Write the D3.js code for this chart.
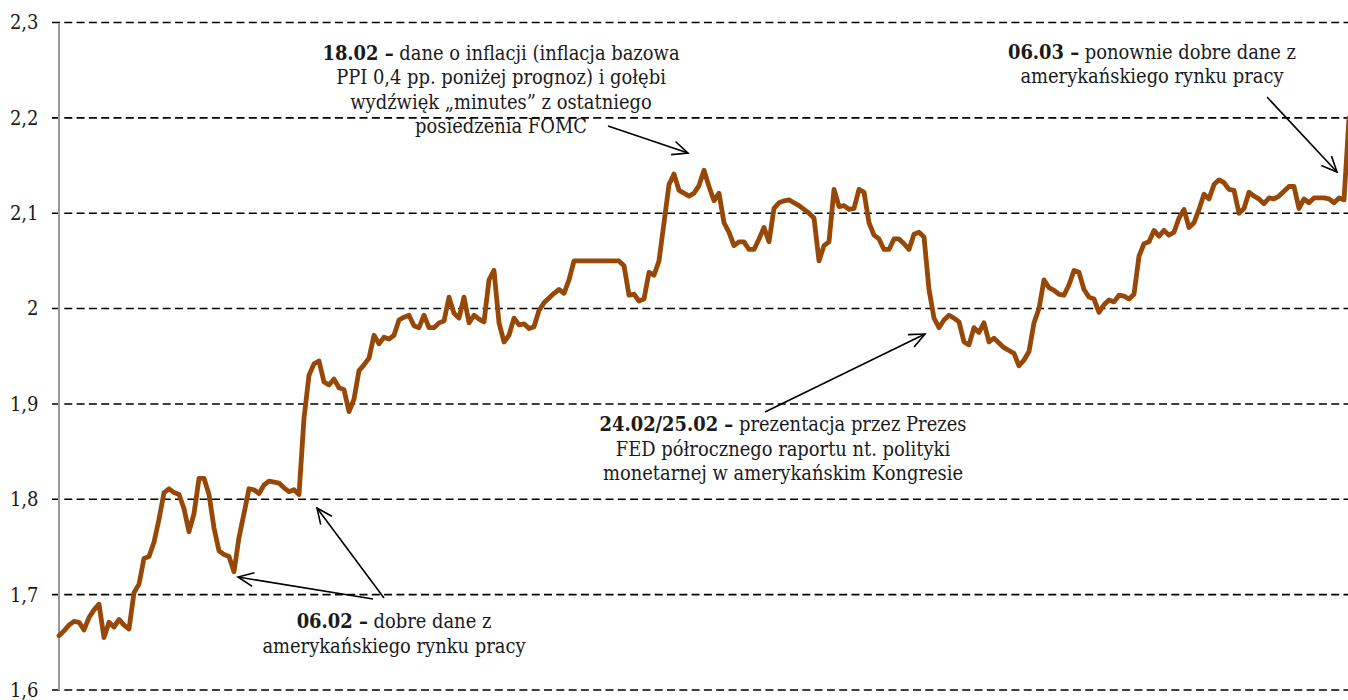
<!DOCTYPE html>
<html>
<head>
<meta charset="utf-8">
<script src="https://cdn.jsdelivr.net/npm/d3@7"></script>
<style>
  html, body { margin: 0; padding: 0; background: #fff; }
  svg { display: block; }
  text { font-family: "DejaVu Serif Condensed", "DejaVu Serif", "Liberation Serif", serif; fill: #1a1a1a; }
</style>
</head>
<body>
<svg id="chart" width="1348" height="700"></svg>
<script>
// Series at equal time steps (left to right).
const values = [
  1.657, 1.662, 1.668, 1.672, 1.671, 1.663, 1.676, 1.684, 1.690, 1.655,
  1.671, 1.666, 1.674, 1.668, 1.664, 1.702, 1.711, 1.738, 1.740, 1.755,
  1.779, 1.807, 1.811, 1.807, 1.805, 1.790, 1.766, 1.785, 1.822, 1.822,
  1.805, 1.770, 1.746, 1.742, 1.740, 1.724, 1.760, 1.785, 1.811, 1.810,
  1.806, 1.815, 1.819, 1.818, 1.817, 1.812, 1.808, 1.810, 1.805, 1.885,
  1.930, 1.942, 1.945, 1.923, 1.920, 1.926, 1.917, 1.915, 1.892, 1.905,
  1.935, 1.941, 1.948, 1.972, 1.963, 1.970, 1.968, 1.972, 1.988, 1.991,
  1.993, 1.982, 1.980, 1.993, 1.980, 1.980, 1.985, 1.987, 2.012, 1.995,
  1.990, 2.012, 1.985, 1.993, 1.989, 1.986, 2.030, 2.040, 1.985, 1.965,
  1.972, 1.990, 1.983, 1.984, 1.979, 1.981, 1.998, 2.006, 2.011, 2.016,
  2.020, 2.016, 2.030, 2.050, 2.050, 2.050, 2.050, 2.050, 2.050, 2.050,
  2.050, 2.050, 2.050, 2.045, 2.014, 2.015, 2.008, 2.010, 2.038, 2.035,
  2.050, 2.090, 2.130, 2.141, 2.124, 2.121, 2.118, 2.121, 2.129, 2.145,
  2.128, 2.113, 2.121, 2.090, 2.080, 2.066, 2.070, 2.070, 2.062, 2.062,
  2.073, 2.085, 2.070, 2.105, 2.111, 2.113, 2.114, 2.111, 2.108, 2.104,
  2.100, 2.095, 2.050, 2.066, 2.070, 2.125, 2.107, 2.108, 2.104, 2.105,
  2.125, 2.122, 2.090, 2.077, 2.073, 2.062, 2.062, 2.073, 2.073, 2.068,
  2.062, 2.078, 2.080, 2.075, 2.020, 1.990, 1.980, 1.988, 1.993, 1.990,
  1.986, 1.965, 1.962, 1.980, 1.975, 1.985, 1.965, 1.969, 1.964, 1.959,
  1.956, 1.953, 1.940, 1.946, 1.955, 1.985, 2.000, 2.030, 2.022, 2.019,
  2.015, 2.014, 2.025, 2.040, 2.038, 2.020, 2.012, 2.010, 1.996, 2.004,
  2.009, 2.007, 2.014, 2.013, 2.010, 2.015, 2.055, 2.068, 2.070, 2.082,
  2.076, 2.082, 2.077, 2.080, 2.095, 2.104, 2.085, 2.090, 2.104, 2.120,
  2.115, 2.130, 2.135, 2.132, 2.125, 2.124, 2.100, 2.105, 2.122, 2.118,
  2.115, 2.110, 2.116, 2.115, 2.118, 2.123, 2.128, 2.128, 2.105, 2.115,
  2.111, 2.116, 2.116, 2.116, 2.115, 2.111, 2.116, 2.114, 2.200
];

const yTicks = [1.6, 1.7, 1.8, 1.9, 2.0, 2.1, 2.2, 2.3];

// Annotation arrows, in data units: [step index, value]
const arrows = [
  { from: [62.8, 1.6954], to: [35.8, 1.7185] },
  { from: [65.0, 1.6965], to: [51.6, 1.7909] },
  { from: [109.8, 2.1914], to: [125.8, 2.1631] },
  { from: [141.2, 1.8915], to: [173.2, 1.9733] },
  { from: [241.6, 2.2218], to: [255.6, 2.1432] }
];

// Annotation texts: anchor [step index, value] of first baseline; bold lead + rest
const notes = [
  { at: [88.4, 2.2609], lines: [
      ["18.02 –", " dane o inflacji (inflacja bazowa"],
      ["", "PPI 0,4 pp. poniżej prognoz) i gołębi"],
      ["", "wydźwięk „minutes” z ostatniego"],
      ["", "posiedzenia FOMC"] ] },
  { at: [218.6, 2.2619], lines: [
      ["06.03 –", " ponownie dobre dane z"],
      ["", "amerykańskiego rynku pracy"] ] },
  { at: [144.8, 1.8716], lines: [
      ["24.02/25.02 –", " prezentacja przez Prezes"],
      ["", "FED półrocznego raportu nt. polityki"],
      ["", "monetarnej w amerykańskim Kongresie"] ] },
  { at: [67.0, 1.665], lines: [
      ["06.02 –", " dobre dane z"],
      ["", "amerykańskiego rynku pracy"] ] }
];

const svg = d3.select("#chart");
const W = 1348, H = 700;
const x0 = 59, x1 = 1349;

const x = d3.scaleLinear().domain([0, values.length - 1]).range([x0, x1]);
const y = d3.scaleLinear().domain([1.6, 2.3]).range([690, 22.5]);

// gridlines
svg.append("g").selectAll("line").data(yTicks).join("line")
  .attr("x1", 52).attr("x2", W)
  .attr("y1", d => y(d)).attr("y2", d => y(d))
  .attr("stroke", "#000").attr("stroke-width", 1.6)
  .attr("stroke-dasharray", "8,4.3");

// y axis
const yAxis = d3.axisLeft(y).tickValues(yTicks).tickSize(0).tickPadding(20)
  .tickFormat(d => d3.format(".1f")(d).replace(".", ",").replace(",0", ""));
const ga = svg.append("g").attr("transform", `translate(${x0 - 0.5},0)`).call(yAxis);
ga.select(".domain").attr("stroke", "#999").attr("stroke-width", 2);
ga.selectAll("text").attr("font-size", 20).attr("fill", "#1a1a1a")
  .attr("font-family", '"DejaVu Serif Condensed", "DejaVu Serif", serif');

// series line
const line = d3.line().x((d, i) => x(i)).y(d => y(d)).curve(d3.curveLinear);
svg.append("path").datum(values)
  .attr("d", line)
  .attr("fill", "none")
  .attr("stroke", "#974806")
  .attr("stroke-width", 4.8)
  .attr("stroke-linejoin", "round")
  .attr("stroke-linecap", "round");

// arrows
const ag = svg.append("g").attr("stroke", "#000").attr("stroke-width", 1.6).attr("fill", "none");
arrows.forEach(a => {
  const fx = x(a.from[0]), fy = y(a.from[1]);
  const tx = x(a.to[0]), ty = y(a.to[1]);
  ag.append("line").attr("x1", fx).attr("y1", fy).attr("x2", tx).attr("y2", ty);
  const ang = Math.atan2(ty - fy, tx - fx);
  const len = 17, spread = 0.42;
  const p1 = [tx - len * Math.cos(ang - spread), ty - len * Math.sin(ang - spread)];
  const p2 = [tx - len * Math.cos(ang + spread), ty - len * Math.sin(ang + spread)];
  ag.append("path").attr("d", `M${p1[0]},${p1[1]}L${tx},${ty}L${p2[0]},${p2[1]}`);
});

// annotation texts
const lh = 24.5;
notes.forEach(n => {
  const t = svg.append("text")
    .attr("text-anchor", "middle")
    .attr("font-size", 19.9);
  n.lines.forEach((ln, i) => {
    const row = t.append("tspan").attr("x", x(n.at[0])).attr("y", y(n.at[1]) + i * lh);
    if (ln[0]) row.append("tspan").attr("font-weight", "bold").text(ln[0]);
    row.append("tspan").text(ln[1]);
  });
});
</script>
</body>
</html>
